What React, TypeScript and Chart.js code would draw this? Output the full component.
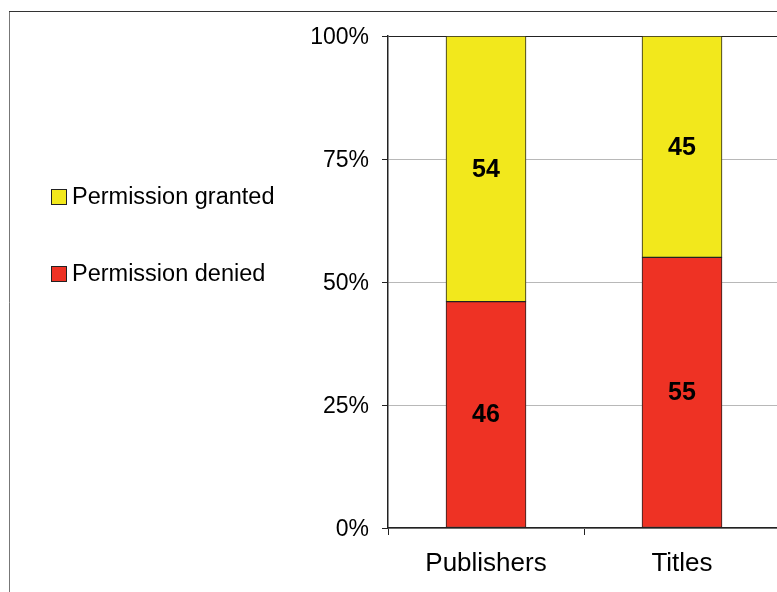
import React, { useEffect, useRef } from "react";
import { Chart, registerables } from "chart.js";

Chart.register(...registerables);

const categories = ["Publishers", "Titles"];
const deniedValues = [46, 55];
const grantedValues = [54, 45];
const seriesLabels = ["Permission granted", "Permission denied"];
const yTicks = [0, 25, 50, 75, 100];

const FONT = '"Liberation Sans", Arial, Helvetica, sans-serif';
const YELLOW = "#F2E81C";
const RED = "#EE3224";

const framePlugin = {
  id: "frame",
  beforeDraw(chart: any) {
    const ctx = chart.ctx;
    ctx.save();
    ctx.lineWidth = 1;
    ctx.strokeStyle = "#777";
    ctx.beginPath();
    ctx.moveTo(9.5, 600);
    ctx.lineTo(9.5, 11.5);
    ctx.stroke();
    ctx.strokeStyle = "#333";
    ctx.beginPath();
    ctx.moveTo(9, 11.5);
    ctx.lineTo(800, 11.5);
    ctx.stroke();
    ctx.restore();
  },
};

const legendPlugin = {
  id: "customLegend",
  afterDraw(chart: any) {
    const ctx = chart.ctx;
    const ds = chart.data.datasets;
    const items = [
      { label: ds[1].label, color: ds[1].backgroundColor, y: 189 },
      { label: ds[0].label, color: ds[0].backgroundColor, y: 266 },
    ];
    ctx.save();
    items.forEach((it) => {
      ctx.fillStyle = it.color;
      ctx.fillRect(51, it.y, 15, 15);
      ctx.strokeStyle = "#222";
      ctx.lineWidth = 1;
      ctx.strokeRect(51.5, it.y + 0.5, 15, 15);
      ctx.fillStyle = "#000";
      ctx.font = `23.5px ${FONT}`;
      ctx.textAlign = "left";
      ctx.textBaseline = "middle";
      ctx.fillText(it.label, 72, it.y + 9);
    });
    ctx.restore();
  },
};

const valueLabelPlugin = {
  id: "valueLabels",
  afterDatasetsDraw(chart: any) {
    const ctx = chart.ctx;
    ctx.save();
    ctx.fillStyle = "#000";
    ctx.font = `bold 25px ${FONT}`;
    ctx.textAlign = "center";
    ctx.textBaseline = "middle";
    chart.data.datasets.forEach((ds: any, i: number) => {
      const meta = chart.getDatasetMeta(i);
      meta.data.forEach((el: any, j: number) => {
        ctx.fillText(String(ds.data[j]), el.x, (el.y + el.base) / 2 + 1);
      });
    });
    ctx.restore();
  },
};

export default function App() {
  const ref = useRef<HTMLCanvasElement>(null);
  useEffect(() => {
    if (!ref.current) return;
    const chart = new Chart(ref.current, {
      type: "bar",
      data: {
        labels: categories,
        datasets: [
          {
            label: seriesLabels[1],
            data: deniedValues,
            backgroundColor: RED,
            borderColor: "#222",
            borderWidth: 1,
            borderSkipped: false,
            barThickness: 80,
          },
          {
            label: seriesLabels[0],
            data: grantedValues,
            backgroundColor: YELLOW,
            borderColor: "#222",
            borderWidth: 1,
            borderSkipped: false,
            barThickness: 80,
          },
        ],
      },
      options: {
        responsive: false,
        animation: false,
        devicePixelRatio: 1,
        layout: { padding: { top: 36, right: 10, bottom: 0, left: 0 } },
        plugins: { legend: { display: false }, tooltip: { enabled: false } },
        scales: {
          x: {
            stacked: true,
            grid: {
              offset: true,
              drawOnChartArea: false,
              tickLength: 7,
              color: "#222",
            },
            border: { display: true, color: "#222", width: 1.5 },
            ticks: {
              color: "#000",
              font: { family: FONT, size: 26 },
              padding: 13,
            },
            afterFit: (s: any) => {
              s.height = 64;
            },
          },
          y: {
            stacked: true,
            min: 0,
            max: 100,
            afterBuildTicks: (s: any) => {
              s.ticks = yTicks.map((v) => ({ value: v }));
            },
            grid: {
              color: (c: any) => (c.tick && c.tick.value === 100 ? "#222" : "#b8b8b8"),
              tickColor: "#222",
              tickLength: 6,
            },
            border: { display: true, color: "#222", width: 1.5 },
            ticks: {
              color: "#000",
              font: { family: FONT, size: 23 },
              padding: 13,
              labelOffset: 2,
              callback: (v: any) => `${v}%`,
            },
            afterFit: (s: any) => {
              s.width = 388;
            },
          },
        },
      },
      plugins: [framePlugin, legendPlugin, valueLabelPlugin],
    });
    return () => chart.destroy();
  }, []);
  return (
    <div
      style={{
        position: "fixed",
        left: 0,
        top: 0,
        width: 777,
        height: 592,
        overflow: "hidden",
        background: "#fff",
      }}
    >
      <canvas ref={ref} width={790} height={592} style={{ display: "block" }} />
    </div>
  );
}
